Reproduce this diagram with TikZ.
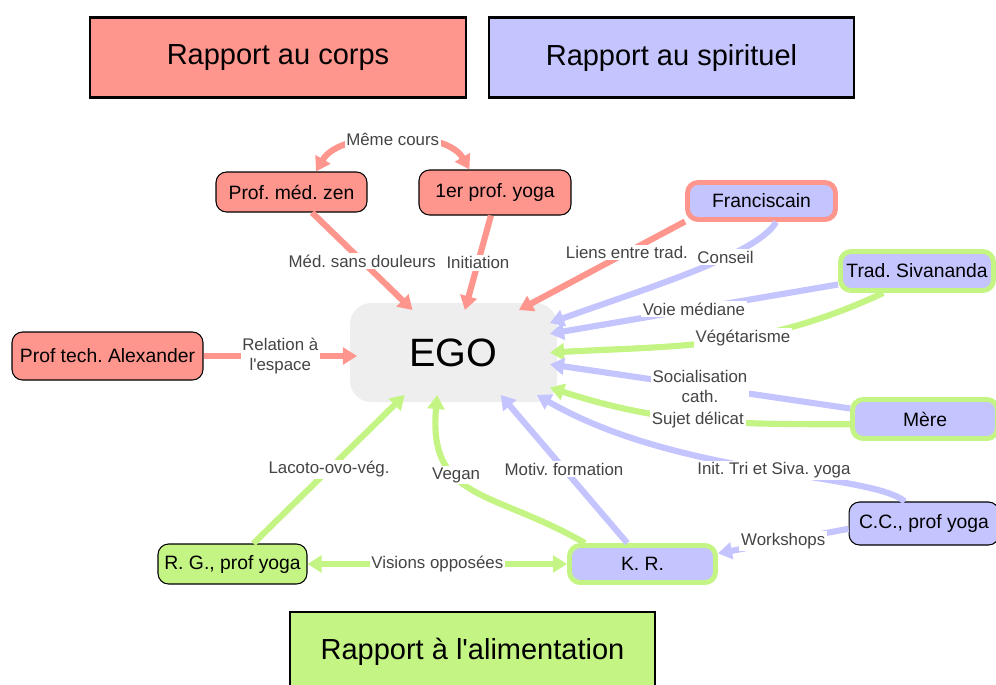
\documentclass[tikz,border=0pt]{standalone}
\usepackage{fontspec}
\setmainfont{Liberation Sans}
\usepackage{xcolor}
\usepackage{tikz}
\usetikzlibrary{arrows.meta}
\frenchspacing

\definecolor{corps}{RGB}{255,150,142}
\definecolor{spirit}{RGB}{196,196,255}
\definecolor{alim}{RGB}{196,245,132}
\definecolor{egogray}{RGB}{238,238,238}
\definecolor{lblgray}{RGB}{68,68,68}

\begin{document}
\begin{tikzpicture}[x=0.02cm, y=-0.02cm,
	>={Triangle[length=8pt,width=9.5pt]},
	legend/.style={draw=black, line width=1.2pt, minimum height=1.6cm, font=\fontsize{16.5}{18}\selectfont},
	person/.style={rounded corners=6pt, font=\fontsize{11}{13}\selectfont, text=black},
	thin/.style={person, draw=black, line width=0.6pt},
	fat/.style={person, line width=2.8pt},
	link/.style={line width=3.5pt},
	lbl/.style={fill=white, text=lblgray, inner sep=1pt, align=center, font=\fontsize{9.6}{11}\selectfont}]

	\useasboundingbox (0,0) rectangle (996,684);

	\node [legend, fill=corps, minimum width=7.52cm] (lcorps) at (278,57.5) {Rapport au corps};
	\node [legend, fill=spirit, minimum width=7.3cm] (lspirit) at (671.5,57.5) {Rapport au spirituel};
	\node [legend, fill=alim, minimum width=7.3cm] (lalim) at (472.5,652) {Rapport à l\textquotesingle alimentation};

	\node [fill=egogray, rounded corners=12pt, minimum width=4.14cm, minimum height=1.98cm, outer sep=-4pt,
		font=\fontsize{22.5}{26}\selectfont] (ego) at (453.5,352.5) {EGO};

	\node [thin, fill=corps, minimum width=3.02cm, minimum height=0.8cm] (zen) at (291.5,192) {Prof. méd. zen};
	\node [thin, fill=corps, minimum width=3.04cm, minimum height=0.9cm] (yoga) at (495,192.5) {1er prof. yoga};
	\node [thin, fill=corps, minimum width=3.82cm, minimum height=0.96cm] (alex) at (107.5,356) {Prof tech. Alexander};
	\node [fat, fill=spirit, draw=corps, minimum width=2.96cm, minimum height=0.74cm] (franc) at (761.5,201) {Franciscain};
	\node [fat, fill=spirit, draw=alim, minimum width=3.06cm, minimum height=0.78cm] (siva) at (917,271) {Trad. Sivananda};
	\node [fat, fill=spirit, draw=alim, minimum width=2.9cm, minimum height=0.78cm] (mere) at (925,419) {Mère};
	\node [thin, fill=spirit, minimum width=3cm, minimum height=0.86cm] (cc) at (924,523.5) {C.C., prof yoga};
	\node [fat, fill=spirit, draw=alim, minimum width=2.92cm, minimum height=0.74cm] (kr) at (642.5,564) {K. R.};
	\node [thin, fill=alim, minimum width=2.98cm, minimum height=0.8cm] (rg) at (232.5,564) {R. G., prof yoga};

	\draw [link, corps] [<->] (zen.40) to[out=60, in=120, looseness=0.8] node [lbl] {Même cours} (yoga.138);
	\draw [link, corps] [->] (zen.-45) -- node [lbl] {Méd. sans douleurs} (ego.134);
	\draw [link, corps] [->] (yoga.-100) -- node [lbl] {Initiation} (ego.75);
	\draw [link, corps] [->] (franc.195) -- node [lbl, pos=0.35] {Liens entre trad.} (ego.33);
	\draw [link, corps] [->] (alex.east) -- node [lbl] {Relation à\\l\textquotesingle espace} (alex.east -| ego.west);

	\draw [link, spirit] [->] (franc.-55) to[out=-120, in=20, out looseness=0.4] node [lbl, pos=0.35] {Conseil} (ego.17);
	\draw [link, spirit] [->] (siva) -- node [lbl] {Voie médiane} (ego.11);
	\draw [link, alim] [->] (siva.-147) to[out=-155, in=3] node [lbl, pos=0.43] {Végétarisme} (ego.0);
	\draw [link, spirit] [->] (mere.172) -- node [lbl] {Socialisation\\cath.} (ego.-7);
	\draw [link, alim] [->] (mere.184) to[out=180, in=-18] node [lbl] {Sujet délicat} (ego.-20);
	\draw [link, spirit] [->] (cc.131) to[out=140, in=-30, out looseness=0.3, in looseness=1.1] node [lbl, pos=0.47] {Init. Tri et Siva. yoga} (ego.-27);
	\draw [link, spirit] [->] (cc.184) -- node [lbl] {Workshops} (kr.8);
	\draw [link, spirit] [->] (kr.126) -- node [lbl] {Motiv. formation} (ego.-42);
	\draw [link, alim] [->] (kr.160) to[out=150, in=-95, looseness=1.3] node [lbl, pos=0.62] {Vegan} (ego.-111);
	\draw [link, alim] [->] (rg) -- node [lbl] {Lacoto-ovo-vég.} (ego.-139);
	\draw [link, alim] [<->] (rg.east) -- node [lbl] {Visions opposées} (kr.west);
\end{tikzpicture}
\end{document}
